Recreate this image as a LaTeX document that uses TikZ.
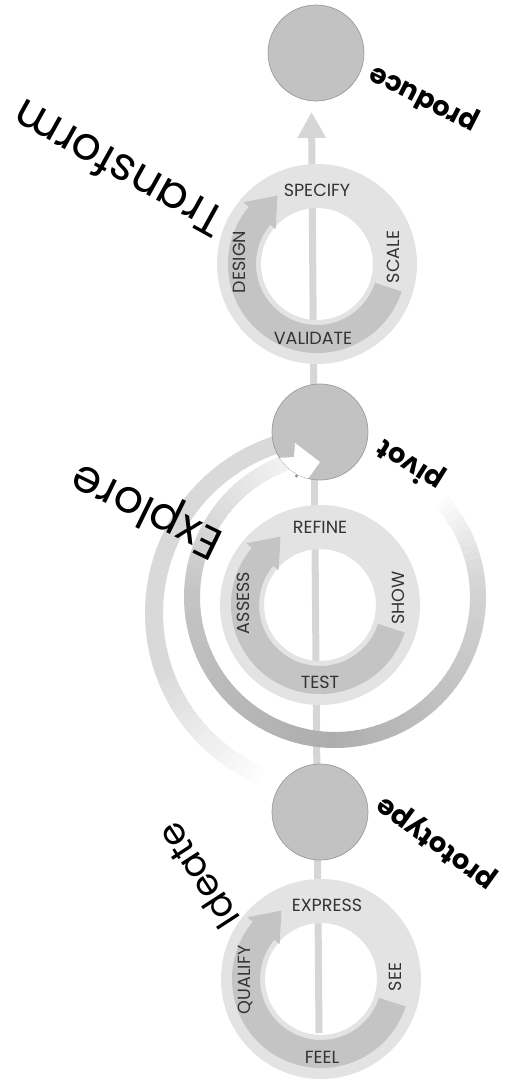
\documentclass[tikz,border=0pt]{standalone}
\usepackage{fontspec}
\setmainfont{Poppins}
\usetikzlibrary{arrows.meta}
\definecolor{ringlight}{HTML}{E3E3E3}
\definecolor{ringdark}{HTML}{C4C4C4}
\definecolor{hubfill}{HTML}{C2C2C2}
\definecolor{hubline}{HTML}{9C9C9C}
\definecolor{flowgray}{HTML}{D6D6D6}
\definecolor{labelgray}{HTML}{333333}
\newcommand\phasering[2]{%
  \begin{scope}[shift={(#1,#2)}]
    \fill[ringlight, even odd rule] (0,0) circle[radius=100] (0,0) circle[radius=56];
    \fill[ringdark] (-18:89) arc[start angle=-18, end angle=-220, radius=89]
      -- (140:96) -- (120:79) -- (140:54) -- (140:61)
      arc[start angle=-220, end angle=-18, radius=61] -- cycle;
  \end{scope}}
\begin{document}
\begin{tikzpicture}[x=0.02cm,y=0.02cm,
  hub/.style={circle, fill=hubfill, draw=hubline, line width=0.4pt, minimum size=1.92cm, inner sep=0pt},
  phase/.style={font=\fontsize{26}{26}\selectfont, text=black, inner sep=0pt},
  stage/.style={font=\bfseries\fontsize{15.5}{15.5}\selectfont, text=black, inner sep=0pt},
  ringtext/.style={font=\fontsize{10}{10}\selectfont, text=labelgray, inner sep=0pt},
  flow/.style={draw=flowgray, line width=0.14cm, -{Triangle[length=0.52cm,width=0.54cm]}},
]
\useasboundingbox (0,0) rectangle (509,-1084);

% vertical flow
\coordinate (flowstart) at (319,-1033);
\coordinate (flowend) at (311.5,-112);
\draw[flow] (flowstart) -- (flowend);

% big explore spiral: outer light arc
\begin{scope}[shift={(331,-613)}]
  \foreach \a in {250,247,...,100} {
    \pgfmathsetmacro\k{(\a)>200 ? 15*(250-(\a))/50 : 15}
    \draw[line width=0.36cm, draw=black!\k] (\a:177) arc[start angle=\a, end angle=\a-3.6, radius=177];
  }
\end{scope}
% big explore spiral: dark arc
\begin{scope}[shift={(335,-597)}]
  \foreach \a in {45,42,...,-264} {
    \pgfmathsetmacro\k{(\a)>10 ? 16*(45-(\a))/35 : ((\a)>-90 ? 16+16*(10-(\a))/100 : ((\a)>-180 ? 32-9*(-90-(\a))/90 : 23*((\a)+266)/86))}
    \draw[line width=0.32cm, draw=black!\k] (\a:143) arc[start angle=\a, end angle=\a-3.6, radius=143];
  }
\end{scope}

% phase rings
\phasering{317}{-264}
\phasering{320}{-605}
\phasering{321}{-979}

% hubs
\node[hub] (produce) at (316,-53) {};
\node[hub] (pivot) at (320,-432) {};
\node[hub] (prototype) at (320,-812) {};

% white arrow head cut into pivot
\begin{scope}
  \clip (pivot.center) circle[radius=48];
  \fill[white] (260,-459) -- (294,-457) -- (295,-443) -- (320,-462) -- (305,-483) -- (300,-477) -- (260,-480) -- cycle;
\end{scope}
\fill[black!45] (296.5,-476) circle[radius=1.6];

% stage labels
\node[stage, rotate=153] (producelabel) at (424,-98) {produce};
\node[stage, rotate=148] (pivotlabel) at (411,-464) {pivot};
\node[stage, rotate=144] (prototypelabel) at (437,-842) {prototype};

% phase labels
\node[phase, rotate=151] (transformlabel) at (118,-170) {Transform};
\node[phase, rotate=154] (explorelabel) at (148,-508) {Explore};
\node[phase, font=\fontsize{21}{21}\selectfont, rotate=123] (ideatelabel) at (198,-876) {Ideate};

% ring labels: transform
\node[ringtext] (specify) at (317,-190) {SPECIFY};
\node[ringtext] (validate) at (313,-338) {VALIDATE};
\node[ringtext, rotate=90] (scale) at (393,-257) {SCALE};
\node[ringtext, rotate=90] (design) at (239,-262) {DESIGN};
% ring labels: explore
\node[ringtext] (refine) at (320,-527) {REFINE};
\node[ringtext] (test) at (320,-682) {TEST};
\node[ringtext, rotate=90] (show) at (398,-598) {SHOW};
\node[ringtext, rotate=90] (assess) at (243,-603) {ASSESS};
% ring labels: ideate
\node[ringtext] (express) at (327,-905) {EXPRESS};
\node[ringtext] (feel) at (322,-1057) {FEEL};
\node[ringtext, rotate=90] (see) at (395,-977) {SEE};
\node[ringtext, rotate=90] (qualify) at (245,-980) {QUALIFY};
\end{tikzpicture}
\end{document}
